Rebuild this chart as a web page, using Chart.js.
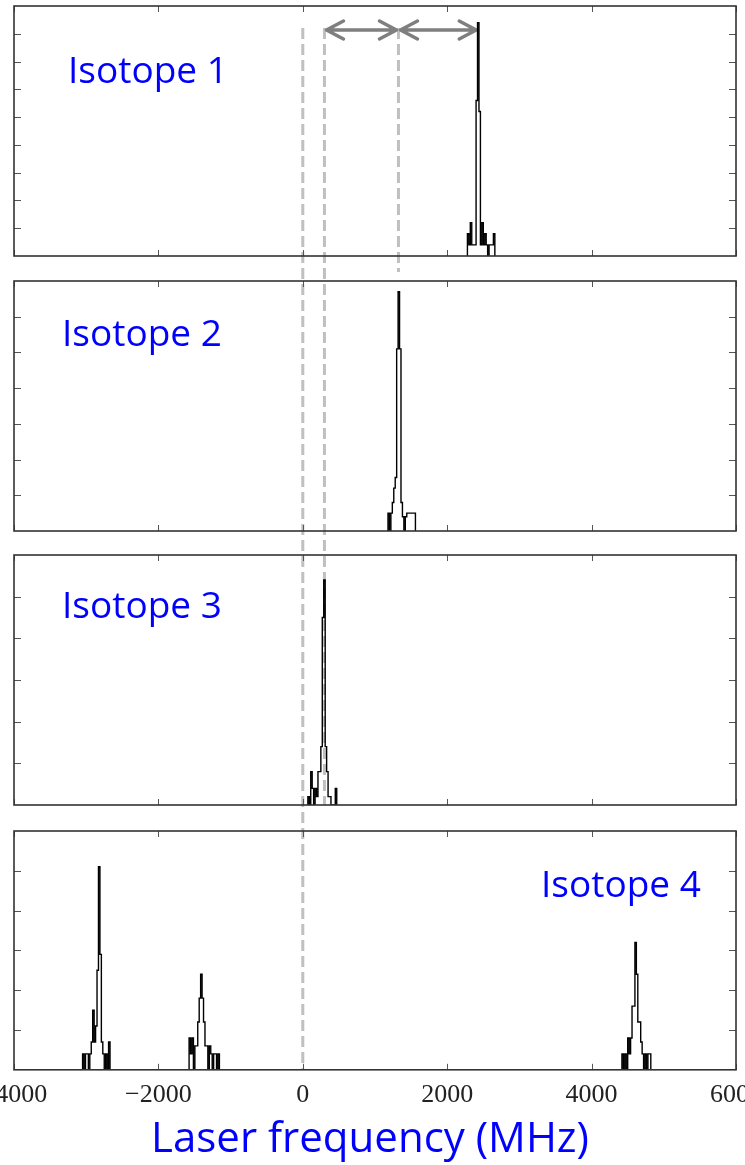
<!DOCTYPE html>
<html>
<head>
<meta charset="utf-8">
<script src="https://cdn.jsdelivr.net/npm/chart.js@4/dist/chart.umd.min.js"></script>
<style>
  html, body { margin: 0; padding: 0; background: #fff; overflow: hidden; }
  #wrap { position: relative; width: 745px; height: 1165px; overflow: hidden; }
  canvas { position: absolute; }
  .iso { position: absolute; color: #0000ff; font-family: "Open Sans", sans-serif; font-size: 37px; line-height: 37px; white-space: nowrap; }
  #xtitle { position: absolute; left: 0; width: 740px; text-align: center; color: #0000ff; font-family: "Open Sans", sans-serif; font-size: 42px; line-height: 42px; white-space: nowrap; }
</style>
</head>
<body>
<div id="wrap">
  <canvas id="guides" width="745" height="1165" style="left:0;top:0"></canvas>
  <canvas id="c1" width="805" height="260" style="left:-30px;top:1px"></canvas>
  <canvas id="c2" width="805" height="260" style="left:-30px;top:276px"></canvas>
  <canvas id="c3" width="805" height="260" style="left:-30px;top:550px"></canvas>
  <canvas id="c4" width="805" height="295" style="left:-30px;top:826px"></canvas>
  <div class="iso" style="left:68px;top:50px">Isotope 1</div>
  <div class="iso" style="left:62px;top:313px">Isotope 2</div>
  <div class="iso" style="left:62px;top:585px">Isotope 3</div>
  <div class="iso" style="left:541px;top:864px">Isotope 4</div>
  <div id="xtitle" style="top:1115px">Laser frequency (MHz)</div>
</div>
<script>
// histogram bins are 20 MHz wide; each peak = first bin edge + counts per bin
const binWidth = 20;
const xTicks = [-4000, -2000, 0, 2000, 4000, 6000];

const iso1Start = 2280;
const iso1Counts = [8, 4, 12, 4, 4, 4, 56, 84, 52, 4, 12, 4, 8, 4, 0, 4, 4, 4, 8];

const iso2Start = 1180;
const iso2Counts = [5, 0, 5, 8, 12, 15, 51, 67, 51, 8, 4, 0, 4, 5, 5, 5, 5, 5, 5];

const iso3Start = 70;
const iso3Counts = [2, 0, 8, 4, 0, 4, 2, 8, 8, 14, 45, 54, 14, 8, 2, 2, 0, 0, 0, 4];

const iso4aStart = -3050;
const iso4aCounts = [4, 0, 4, 4, 0, 4, 7, 15, 7, 11, 25, 51, 29, 7, 4, 0, 4, 0, 7];
const iso4bStart = -1575;
const iso4bCounts = [8, 4, 8, 0, 6, 6, 12, 18, 24, 18, 12, 6, 6, 0, 6, 4, 0, 4, 4, 0, 4];
const iso4cStart = 4420;
const iso4cCounts = [4, 0, 4, 0, 8, 4, 8, 16, 16, 32, 24, 12, 12, 7, 4, 0, 4, 0, 4, 4];

const yTicks1 = [10, 20, 30, 40, 50, 60, 70, 80];
const yTicks2 = [10, 20, 30, 40, 50, 60];
const yTicks3 = [10, 20, 30, 40, 50];
const yTicks4 = [10, 20, 30, 40, 50];

// dashed guide lines (MHz) and the spacing arrows between them
const guideMHz = [0, 300, 1325];
const arrowPairs = [[300, 1325], [1325, 2430]];

function histPoints(start, counts) {
  const pts = [{ x: start, y: 0 }];
  counts.forEach((c, i) => pts.push({ x: start + i * binWidth, y: c }));
  pts.push({ x: start + counts.length * binWidth, y: 0 });
  return pts;
}

function histSet(start, counts) {
  return {
    data: histPoints(start, counts),
    stepped: true,
    borderColor: '#000',
    borderWidth: 1.4,
    pointRadius: 0,
    fill: false
  };
}

const framePlugin = {
  id: 'frame',
  afterDraw(chart, args, opts) {
    const { ctx, chartArea: a, scales: { x, y } } = chart;
    ctx.save();
    ctx.beginPath();
    ctx.strokeStyle = '#555';
    ctx.lineWidth = 1;
    opts.yticks.forEach(v => {
      const py = Math.round(y.getPixelForValue(v)) + 0.5;
      ctx.moveTo(a.left, py); ctx.lineTo(a.left + 7, py);
      ctx.moveTo(a.right, py); ctx.lineTo(a.right - 7, py);
    });
    xTicks.forEach(v => {
      const px = Math.round(x.getPixelForValue(v)) + 0.5;
      ctx.moveTo(px, a.top); ctx.lineTo(px, a.top + 6);
      ctx.moveTo(px, a.bottom); ctx.lineTo(px, a.bottom - 6);
    });
    ctx.stroke();
    ctx.strokeStyle = '#333';
    ctx.lineWidth = 1.6;
    ctx.strokeRect(a.left, a.top, a.width, a.height);
    ctx.restore();
  }
};

function makeChart(id, datasets, ymax, yticks, showX) {
  return new Chart(document.getElementById(id), {
    type: 'line',
    data: { datasets },
    options: {
      responsive: false,
      animation: false,
      events: [],
      layout: { padding: { left: 44, right: 39, top: 5, bottom: showX ? 0 : 5 } },
      plugins: { legend: { display: false }, tooltip: { enabled: false }, frame: { yticks } },
      scales: {
        x: {
          type: 'linear', min: -4000, max: 6000, display: showX,
          grid: { display: false, drawTicks: false },
          border: { display: false },
          afterBuildTicks: s => { s.ticks = xTicks.map(v => ({ value: v })); },
          ticks: {
            padding: 10, color: '#222', autoSkip: false, maxRotation: 0,
            font: { family: '"Liberation Serif", serif', size: 26 },
            callback: v => String(v).replace('-', '\u2212')
          }
        },
        y: { min: 0, max: ymax, display: false }
      }
    },
    plugins: [framePlugin]
  });
}

const charts = [
  makeChart('c1', [histSet(iso1Start, iso1Counts)], 90, yTicks1, false),
  makeChart('c2', [histSet(iso2Start, iso2Counts)], 70, yTicks2, false),
  makeChart('c3', [histSet(iso3Start, iso3Counts)], 60, yTicks3, false),
  makeChart('c4', [histSet(iso4aStart, iso4aCounts), histSet(iso4bStart, iso4bCounts), histSet(iso4cStart, iso4cCounts)], 60, yTicks4, true)
];

// overlay: guides and arrows use the shared x scale, shifted by the canvas offset
const offsets = [[-30, 1], [-30, 276], [-30, 550], [-30, 826]];
const g = document.getElementById('guides').getContext('2d');
const xs = charts[0].scales.x;
const px = v => xs.getPixelForValue(v) + offsets[0][0];
const areaBottom = i => charts[i].chartArea.bottom + offsets[i][1];
const guideEnd = [areaBottom(3), areaBottom(2), areaBottom(0) + 16];

g.strokeStyle = '#c0c0c0';
g.lineWidth = 3;
g.setLineDash([11, 5]);
guideMHz.forEach((v, i) => {
  g.beginPath();
  g.moveTo(px(v), 28);
  g.lineTo(px(v), guideEnd[i]);
  g.stroke();
});

g.setLineDash([]);
g.strokeStyle = '#7f7f7f';
g.lineWidth = 3.5;
g.lineCap = 'round';
g.lineJoin = 'round';
const ay = 30;
arrowPairs.forEach(([a, b]) => {
  const x1 = px(a) + 2, x2 = px(b) - 2;
  g.beginPath();
  g.moveTo(x1, ay); g.lineTo(x2, ay);
  g.moveTo(x1 + 17, ay - 9); g.lineTo(x1, ay); g.lineTo(x1 + 17, ay + 9);
  g.moveTo(x2 - 17, ay - 9); g.lineTo(x2, ay); g.lineTo(x2 - 17, ay + 9);
  g.stroke();
});
</script>
</body>
</html>
